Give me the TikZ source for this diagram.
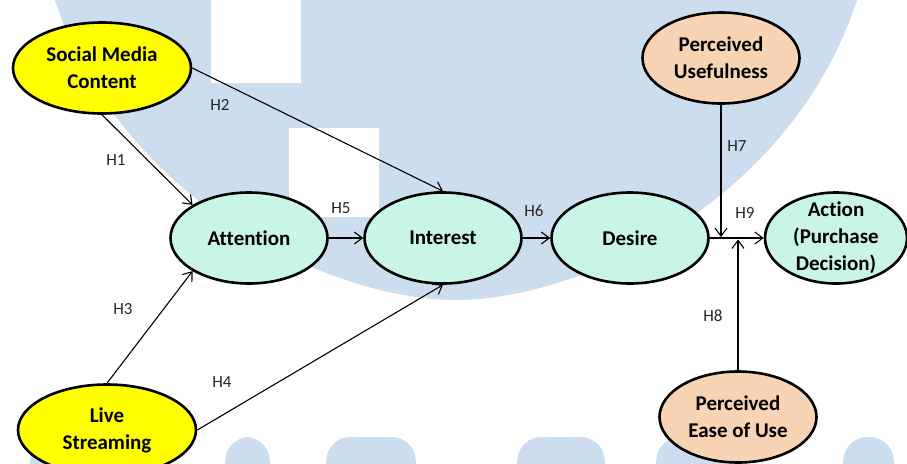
\documentclass[tikz,border=0pt]{standalone}
\usepackage{fontspec}
\setmainfont{Carlito}[Ligatures=NoCommon]
\usetikzlibrary{arrows.meta,shapes.geometric}
\definecolor{aidayellow}{HTML}{FFFF00}
\definecolor{aidamint}{HTML}{C8F5E8}
\definecolor{aidapeach}{HTML}{F8D4B4}
\definecolor{aidawm}{HTML}{CCDEEE}
\definecolor{aidaink}{HTML}{000000}
\tikzset{
  var/.style={ellipse, draw=aidaink, line width=2.6pt, align=center, inner sep=-10pt, font=\fontsize{21}{27}\selectfont\bfseries, minimum width=157pt, minimum height=91pt},
  src/.style={var, fill=aidayellow, minimum width=178pt},
  stage/.style={var, fill=aidamint},
  tam/.style={var, fill=aidapeach},
  arr/.style={-{Straight Barb[length=8pt,width=12pt]}, line width=1.1pt, color=aidaink},
  lbl/.style={font=\fontsize{17}{20}\selectfont, color=aidaink!85, inner sep=0pt},
  wm/.style={fill=aidawm},
}
\begin{document}
\begin{tikzpicture}[x=1pt, y=-1pt]
    \useasboundingbox (0,0) rectangle (907,463);
    \clip (0,0) rectangle (907,463);
    \fill[wm] (55,0) .. controls (120,200) and (330,300) .. (456,300) .. controls (582,300) and (792,200) .. (857,0) -- cycle;
    \fill[white] (211,0) rectangle (301,83);
    \fill[white] (289,128) rectangle (379,217);
    \foreach \a/\b in {28/120,223/272,324/418,515/607,654/746,841/896}
      \fill[wm, rounded corners=22pt] (\a,490) -- (\a+4,437) -- (\b-4,437) -- (\b,490) -- cycle;
    \node[src] (smc) at (102,68) {Social Media\\Content};
    \node[src] (ls) at (107,430) {Live\\Streaming};
    \node[stage] (att) at (249,238) {Attention};
    \node[stage] (int) at (443,238) {Interest};
    \node[stage] (des) at (630,238) {Desire};
    \node[stage, minimum width=142pt] (act) at (836,238) {Action\\(Purchase\\Decision)};
    \node[tam] (pu) at (721,58) {Perceived\\Usefulness};
    \node[tam] (peou) at (738,417) {Perceived\\Ease of Use};
    \coordinate (j7) at (721,237);
    \coordinate (j8) at (738,239.5);
    \draw[arr] (smc.south) -- (att.north west);
    \draw[arr] (smc.east) -- (int.north);
    \draw[arr] (ls.north) -- (att.south west);
    \draw[arr] (ls.east) -- (int.south);
    \draw[arr] (att) -- (int);
    \draw[arr] (int) -- (des);
    \draw[arr] (des) -- (act);
    \draw[arr] (pu.south) -- (j7);
    \draw[arr] (peou.north) -- (j8);
    \node[lbl] (h1) at (116,160) {H1};
    \node[lbl] (h2) at (220,105) {H2};
    \node[lbl] (h3) at (123,309) {H3};
    \node[lbl] (h4) at (222,382) {H4};
    \node[lbl] (h5) at (341,208) {H5};
    \node[lbl] (h6) at (534,211) {H6};
    \node[lbl] (h7) at (737,146) {H7};
    \node[lbl] (h8) at (713,316) {H8};
    \node[lbl] (h9) at (745,213) {H9};
\end{tikzpicture}
\end{document}
